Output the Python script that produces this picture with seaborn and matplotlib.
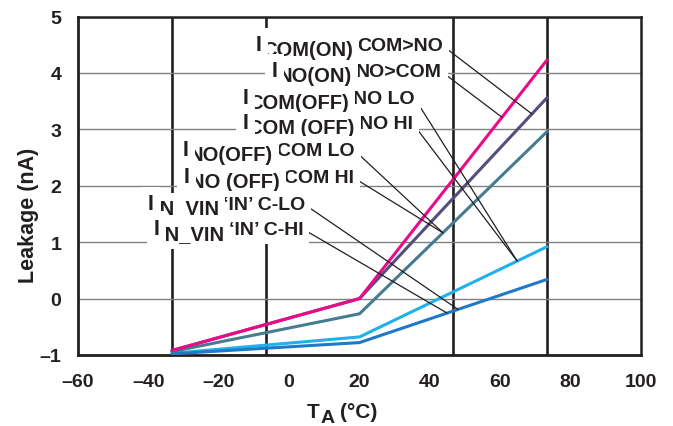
import numpy as np
import pandas as pd
import matplotlib
matplotlib.use("Agg")
import matplotlib.pyplot as plt
import seaborn as sns

# ---- data ----
temps = [-33.3, 20.0, 73.3]
series_names = ["cyan", "blue", "teal", "purple", "pink"]
cyan_vals = [-0.97, -0.68, 0.92]
blue_vals = [-0.98, -0.78, 0.34]
teal_vals = [-0.94, -0.27, 2.96]
purple_vals = [-0.92, 0.00, 3.56]
pink_vals = [-0.92, 0.00, 4.23]
colors = ["#1EB2EA", "#2079C8", "#457C8E", "#524E7E", "#EC0A8A"]

xtick_vals = [-60, -40, -20, 0, 20, 40, 60, 80, 100]
ytick_vals = [-1, 0, 1, 2, 3, 4, 5]

label_subs = ["COM(ON)", "NO(ON)", "COM(OFF)", "COM (OFF)",
              "NO(OFF)", "NO (OFF)", "IN  VIN", "IN_VIN"]
label_descs = ["COM>NO", "NO>COM", "NO LO", "NO HI",
               "COM LO", "COM HI", "‘IN’ C-LO", "‘IN’ C-HI"]
label_series = ["purple", "pink", "cyan", "cyan", "teal", "teal", "blue", "blue"]
label_x = [43.7, 43.4, 35.8, 35.2, 18.7, 18.4, 4.6, 4.0]
label_y = [4.40, 3.94, 3.46, 3.02, 2.54, 2.06, 1.58, 1.15]
target_x = [69.0, 60.5, 64.8, 64.8, 43.7, 43.7, 48.0, 44.9]

# ---- style ----
sns.set_theme(style="white")
plt.rcParams["font.family"] = ["Liberation Sans", "DejaVu Sans"]
plt.rcParams["font.weight"] = "bold"

INK = "#231F20"
FS_I, FS_SUB, FS_DESC = 15.5, 14.5, 14
DROP = 3.6  # subscript drop, points

fig, ax = plt.subplots(figsize=(6.73, 4.27), dpi=100)
fig.subplots_adjust(left=78 / 673, right=641 / 673, bottom=1 - 356 / 427, top=1 - 17.5 / 427)
renderer = fig.canvas.get_renderer()


def width_pt(s, size):
    t = fig.text(0, 0, s, fontsize=size, fontweight="bold")
    w = t.get_window_extent(renderer).width
    t.remove()
    return w * 72.0 / fig.dpi


vals = {"cyan": cyan_vals, "blue": blue_vals, "teal": teal_vals,
        "purple": purple_vals, "pink": pink_vals}
df = pd.DataFrame([
    {"T": t, "leak": v, "series": name}
    for name in series_names for t, v in zip(temps, vals[name])
])

sns.lineplot(data=df, x="T", y="leak", hue="series", hue_order=series_names,
             palette=colors, linewidth=2.2, legend=False, ax=ax, zorder=4,
             sort=False)

ax.set_xlim(-60, 100)
ax.set_ylim(-1, 5)

# tick labels every 20, vertical rules every 160/6
ax.set_xticks(xtick_vals)
ax.set_xticklabels([f"{v}".replace("-", "\u2013") for v in xtick_vals])
ax.set_xticks(np.linspace(-60, 100, 7)[1:-1], minor=True)
ax.set_yticks(ytick_vals)
ax.set_yticklabels([f"{v}".replace("-", "\u2013") for v in ytick_vals])

ax.tick_params(axis="x", which="major", length=0, pad=13, labelsize=14)
ax.tick_params(axis="x", which="minor", length=5, width=2.0, color=INK, direction="out")
ax.tick_params(axis="y", which="major", length=0, pad=12, labelsize=14)
for lab in ax.get_xticklabels() + ax.get_yticklabels():
    lab.set_fontweight("bold")
    lab.set_color(INK)

ax.set_axisbelow(True)
ax.grid(which="minor", axis="x", color=INK, linewidth=1.9)
ax.grid(which="major", axis="y", color="#808080", linewidth=1.0)
ax.grid(which="major", axis="x", visible=False)

for side in ["left", "bottom"]:
    ax.spines[side].set_linewidth(2.0)
    ax.spines[side].set_color(INK)
for side in ["top", "right"]:
    ax.spines[side].set_linewidth(1.8)
    ax.spines[side].set_color(INK)

# y label
ax.set_xlabel("")
ax.set_ylabel("Leakage (nA)", fontsize=15.5, fontweight="bold", color=INK)
ax.yaxis.set_label_coords(-0.07, 0.415)

# x label: T with a large subscript A, then (°C)
xl_anchor = ((307 - 78) / 563, (356 - 418) / 339)
w_T = width_pt("T", 15)
w_A = width_pt("A", 14)
ax.annotate("T", xy=xl_anchor, xycoords="axes fraction", xytext=(0, 0),
            textcoords="offset points", ha="left", va="baseline",
            fontsize=15, fontweight="bold", color=INK)
ax.annotate("A", xy=xl_anchor, xycoords="axes fraction", xytext=(w_T + 0.2, -DROP),
            textcoords="offset points", ha="left", va="baseline",
            fontsize=14, fontweight="bold", color=INK)
ax.annotate("(°C)", xy=xl_anchor, xycoords="axes fraction",
            xytext=(w_T + w_A + 4.5, 0), textcoords="offset points",
            ha="left", va="baseline", fontsize=15, fontweight="bold", color=INK)

# ---- labels with leader lines ----
box = dict(boxstyle="square,pad=0.3", fc="white", ec="none")
for sub, desc, ser, lx, ly, tx in zip(label_subs, label_descs, label_series,
                                      label_x, label_y, target_x):
    ty = float(np.interp(tx, temps, vals[ser]))
    w_desc = width_pt(desc, FS_DESC)
    w_sub = width_pt(sub, FS_SUB)
    ax.annotate(desc, xy=(tx, ty), xytext=(lx, ly), textcoords="data",
                ha="right", va="baseline", fontsize=FS_DESC, fontweight="bold",
                color=INK, zorder=5, bbox=box,
                arrowprops=dict(arrowstyle="-", color=INK, lw=0.9,
                                shrinkA=0, shrinkB=0, relpos=(1.0, 0.5)))
    ax.annotate(sub, xy=(lx, ly), xycoords="data",
                xytext=(-(w_desc + 3.0), -DROP), textcoords="offset points",
                ha="right", va="baseline", fontsize=FS_SUB, fontweight="bold",
                color=INK, zorder=5, bbox=box)
    ax.annotate("I", xy=(lx, ly), xycoords="data",
                xytext=(-(w_desc + 3.0 + w_sub + 0.2), 0), textcoords="offset points",
                ha="right", va="baseline", fontsize=FS_I, fontweight="bold",
                color=INK, zorder=5, bbox=box)

fig.savefig("out.png", dpi=100)
